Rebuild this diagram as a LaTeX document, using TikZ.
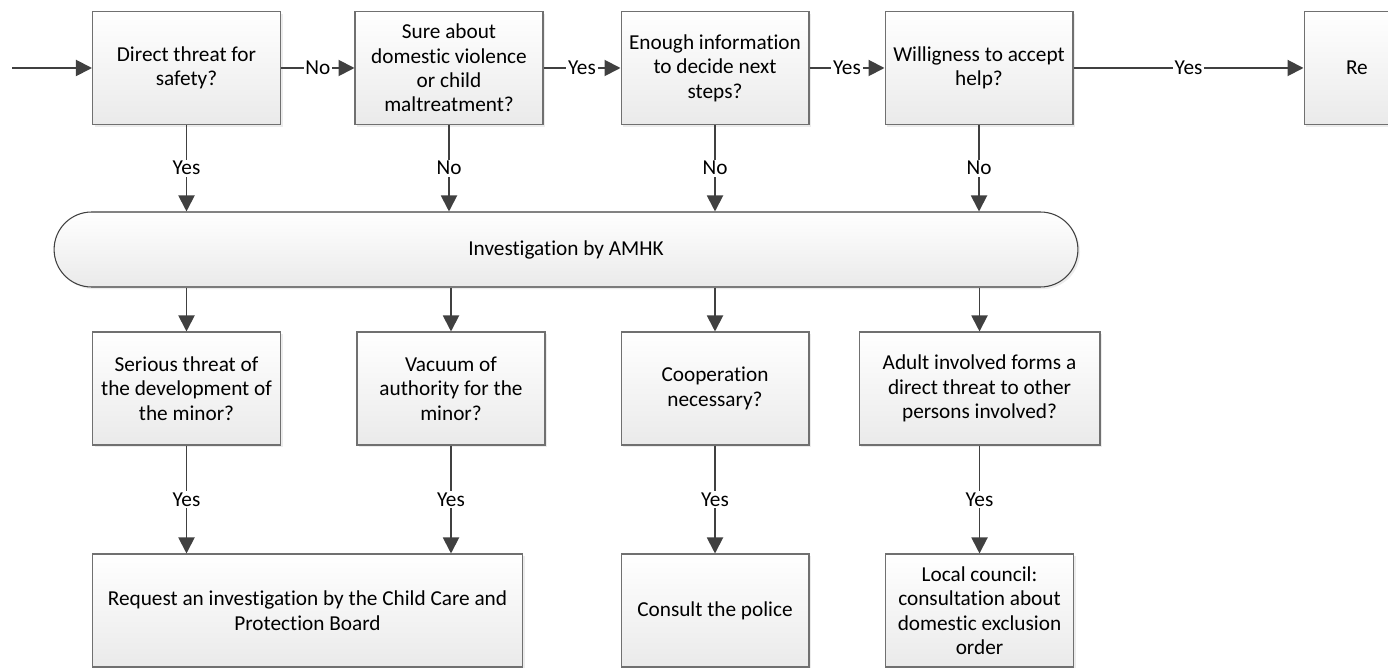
\documentclass[tikz,border=0pt]{standalone}
\usepackage{fontspec}
\setmainfont{Carlito}[Ligatures=NoCommon]
\usetikzlibrary{arrows.meta,shadows}
\definecolor{boxline}{HTML}{707070}
\definecolor{boxfill}{HTML}{EAEAEA}
\definecolor{flowgray}{HTML}{404040}
\begin{document}
\begin{tikzpicture}[x=0.02cm,y=-0.02cm,
  font=\fontsize{12.1}{13.9}\selectfont,
  box/.style={draw=boxline,line width=0.6pt,top color=white,bottom color=boxfill,
    align=center,minimum width=3.76cm,minimum height=2.26cm,inner sep=2pt,
    drop shadow={opacity=0.15,shadow xshift=1.2pt,shadow yshift=-1.2pt}},
  flow/.style={draw=flowgray,line width=1.1pt,-{Triangle[length=0.32cm,width=0.32cm]}},
  lbl/.style={fill=white,inner sep=1pt}]
  \useasboundingbox (0,0) rectangle (1388,668);
  \clip (0,0) rectangle (1388,668);

  % first row: the questions
  \node[box] (safety)  at (186.5,68) {Direct threat for\\safety?};
  \node[box] (sure)    at (449,68)   {Sure about\\domestic violence\\or child\\maltreatment?};
  \node[box] (enough)  at (715,68)   {Enough information\\to decide next\\steps?};
  \node[box] (willing) at (979,68)   {Willigness to accept\\help?};
  \node[box] (refer)   at (1398,68)  {\makebox[2.08cm][l]{Re}};

  \node[box,draw=flowgray,rounded corners=0.75cm,minimum width=20.48cm,minimum height=1.5cm]
    (amhk) at (566,249.5) {Investigation by AMHK};

  % second row
  \node[box] (serious) at (186.5,388.5) {Serious threat of\\the development of\\the minor?};
  \node[box] (vacuum)  at (451,388.5)   {Vacuum of\\authority for the\\minor?};
  \node[box] (coop)    at (715,388.5)   {Cooperation\\necessary?};
  \node[box,minimum width=4.82cm] (adult) at (979.5,388.5)
    {Adult involved forms a\\direct threat to other\\persons involved?};

  % third row
  \node[box,minimum width=8.62cm] (board) at (307.5,610.5)
    {Request an investigation by the Child Care and\\Protection Board};
  \node[box] (police)  at (715,610.5)   {Consult the police};
  \node[box] (council) at (979.5,610.5) {Local council:\\consultation about\\domestic exclusion\\order};

  \coordinate (in) at (12,68);
  \draw[flow] (in) -- (safety);
  \draw[flow] (safety) -- node[lbl] {No} (sure);
  \draw[flow] (sure) -- node[lbl] {Yes} (enough);
  \draw[flow] (enough) -- node[lbl] {Yes} (willing);
  \draw[flow] (willing) -- node[lbl] {Yes} (refer);

  \foreach \n/\t in {safety/Yes,sure/No,enough/No,willing/No}
    \draw[flow] (\n) -- node[lbl] {\t} (\n |- amhk.north);

  \foreach \n in {serious,vacuum,coop,adult}
    \draw[flow] (amhk.south -| \n) -- (\n);

  \draw[flow] (serious) -- node[lbl] {Yes} (serious |- board.north);
  \draw[flow] (vacuum) -- node[lbl] {Yes} (vacuum |- board.north);
  \draw[flow] (coop) -- node[lbl] {Yes} (police);
  \draw[flow] (adult) -- node[lbl] {Yes} (council);
\end{tikzpicture}
\end{document}
